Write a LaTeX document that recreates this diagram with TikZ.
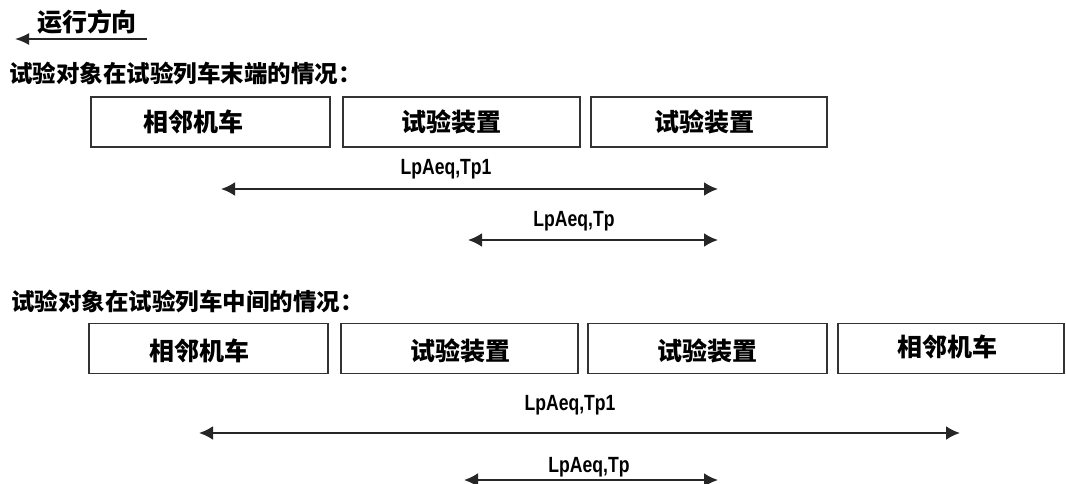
\documentclass[tikz,border=0pt]{standalone}
\usepackage{fontspec}
\newfontfamily\cjk{Noto Sans CJK SC}
\newfontfamily\lat{Liberation Sans}[FakeStretch=0.8]
\usetikzlibrary{arrows.meta}
\tikzset{
  box/.style={draw=black!80, line width=1.8pt, minimum height=50pt, inner sep=0pt},
  boxlabel/.style={inner sep=0pt, font=\cjk\bfseries\fontsize{25}{25}\selectfont},
  heading/.style={inner sep=0pt, anchor=west, font=\cjk\bfseries\fontsize{23.5}{24}\selectfont},
  dimlabel/.style={inner sep=0pt, font=\lat\bfseries\fontsize{22}{22}\selectfont},
  dimline/.style={draw=black!85, line width=2.4pt, {Latex[length=14pt,width=14pt]}-{Latex[length=14pt,width=14pt]}},
  dirline/.style={draw=black!85, line width=1.8pt, -{Latex[length=14pt,width=12pt]}}
}
\begin{document}
\begin{tikzpicture}[x=1pt,y=-1pt]
\useasboundingbox[fill=white] (0,0) rectangle (1066,484);
% direction
\node[boxlabel] (dir) at (87,22) {运行方向};
\coordinate (dirA) at (147,39);
\coordinate (dirB) at (15,39);
\draw[dirline] (dirA) -- (dirB);
% case 1
\node[heading] (h1) at (9,74) {试验对象在试验列车末端的情况：};
\node[box, minimum width=239pt] (a1) at (210.5,122) {};
\node[box, minimum width=237pt] (a2) at (461.5,122) {};
\node[box, minimum width=236pt] (a3) at (709,122) {};
\node[boxlabel] (a1t) at (193,122) {相邻机车};
\node[boxlabel] (a2t) at (451,122) {试验装置};
\node[boxlabel] (a3t) at (704,122) {试验装置};
\node[dimlabel] (a4t) at (446,169) {LpAeq,Tp1};
\coordinate (p1L) at (221,189);
\coordinate (p1R) at (718,189);
\draw[dimline] (p1L) -- (p1R);
\node[dimlabel] (a5t) at (574,221) {LpAeq,Tp};
\coordinate (p2L) at (468,240);
\coordinate (p2R) at (718,240);
\draw[dimline] (p2L) -- (p2R);
% case 2
\node[heading] (h2) at (11,302) {试验对象在试验列车中间的情况：};
\node[box, minimum width=239pt] (b1) at (208.5,348.5) {};
\node[box, minimum width=237pt] (b2) at (459.5,348.5) {};
\node[box, minimum width=239pt] (b3) at (707.5,348.5) {};
\node[box, minimum width=226pt] (b4) at (951,348.5) {};
\node[boxlabel] (b1t) at (199,351) {相邻机车};
\node[boxlabel] (b2t) at (460,351) {试验装置};
\node[boxlabel] (b3t) at (707,351) {试验装置};
\node[boxlabel] (b4t) at (947,347) {相邻机车};
\node[dimlabel] (b5t) at (570,405) {LpAeq,Tp1};
\coordinate (q1L) at (199,433);
\coordinate (q1R) at (960,433);
\draw[dimline] (q1L) -- (q1R);
\node[dimlabel] (b6t) at (589,467) {LpAeq,Tp};
\coordinate (q2L) at (464,480);
\coordinate (q2R) at (718,480);
\draw[dimline] (q2L) -- (q2R);
\end{tikzpicture}
\end{document}
